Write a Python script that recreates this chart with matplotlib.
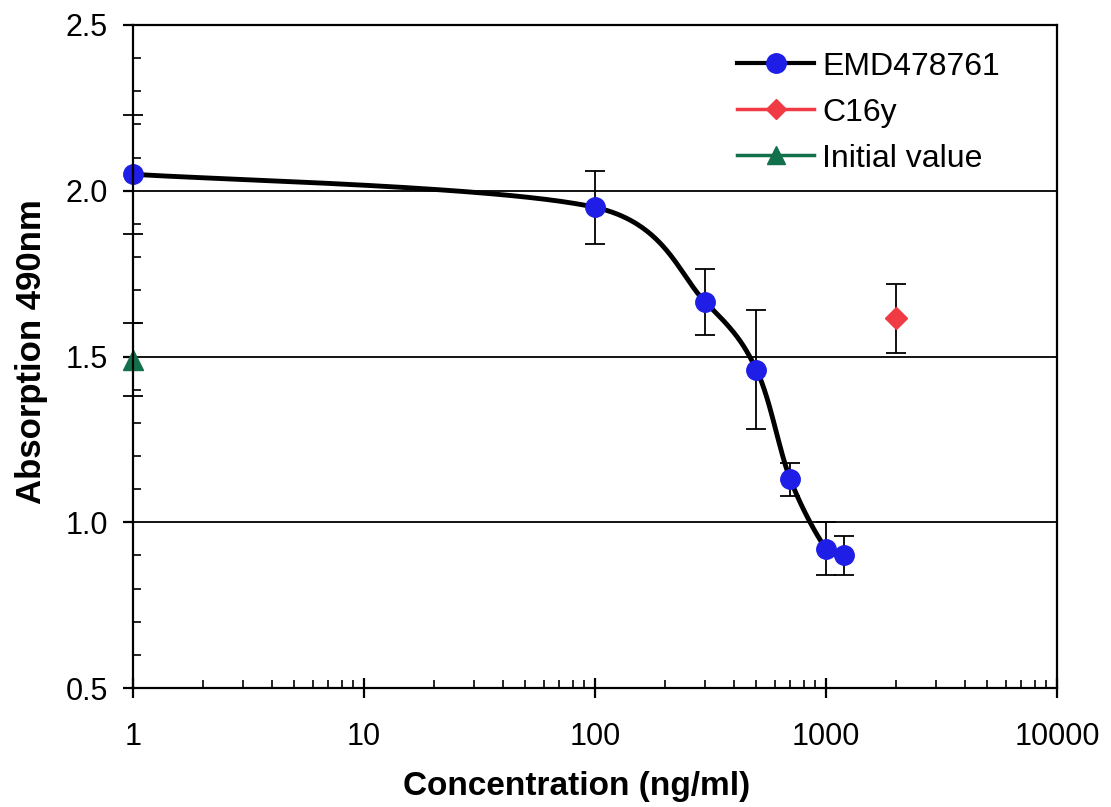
import numpy as np
import matplotlib
matplotlib.use("Agg")
import matplotlib.pyplot as plt
from matplotlib.lines import Line2D

# ---- data ----
emd_x = [1, 100, 300, 500, 700, 1000, 1200]
emd_y = [2.05, 1.95, 1.665, 1.46, 1.13, 0.92, 0.90]
emd_err = [0.18, 0.11, 0.10, 0.18, 0.05, 0.08, 0.06]
c16_x = [2000]
c16_y = [1.615]
c16_err = [0.105]
init_x = [1]
init_y = [1.49]
init_err = [0.11]
x_ticks = [1, 10, 100, 1000, 10000]
x_tick_labels = ["1", "10", "100", "1000", "10000"]
y_ticks = [0.5, 1.0, 1.5, 2.0, 2.5]
y_tick_labels = ["0.5", "1.0", "1.5", "2.0", "2.5"]

plt.rcParams['font.family'] = ['Liberation Sans', 'DejaVu Sans']

W_PX, H_PX = 924, 663
fig = plt.figure(figsize=(11.11, 8.07), dpi=100)
ax = fig.add_axes([133/1111, 1-688/807, W_PX/1111, H_PX/807])
ax.set_xscale('log')
ax.set_xlim(1, 10000)
ax.set_ylim(0.5, 2.5)

# grid lines
for g in [1.0, 1.5, 2.0]:
    ax.axhline(g, color='black', lw=1.3, zorder=1)


def smooth_curve(xs, ys, n=80):
    # spreadsheet-style smoothed line: cubic Bezier segments whose control
    # arms are (p[i+1]-p[i-1])/6, limited to half the segment length
    lx = np.log10(np.array(xs, float)) / 4.0 * W_PX
    ly = (np.array(ys, float) - 0.5) / 2.0 * H_PX
    P = np.column_stack([lx, ly])
    P = np.vstack([P[0], P, P[-1]])
    out = []
    for i in range(1, len(P) - 2):
        p0, p1, p2, p3 = P[i-1], P[i], P[i+1], P[i+2]
        d12 = np.linalg.norm(p2 - p1)
        d02 = np.linalg.norm(p2 - p0)
        d13 = np.linalg.norm(p3 - p1)
        f0 = 1/6 if d02/6 < d12/2 else d12 / (2*d02)
        f1 = 1/6 if d13/6 < d12/2 else d12 / (2*d13)
        a = p1 + f0*(p2 - p0)
        b = p2 - f1*(p3 - p1)
        t = np.linspace(0, 1, n)[:, None]
        C = (1-t)**3*p1 + 3*(1-t)**2*t*a + 3*(1-t)*t**2*b + t**3*p2
        out.append(C)
    out = np.vstack(out)
    return 10**(out[:, 0] / W_PX * 4.0), out[:, 1] / H_PX * 2.0 + 0.5

cx, cy = smooth_curve(emd_x, emd_y)
ax.plot(cx, cy, color='black', lw=3.5, zorder=3, clip_on=False, solid_capstyle='round')

ekw = dict(fmt='none', ecolor='black', elinewidth=1.3, capsize=7, capthick=1.3, zorder=2, clip_on=False)
ax.errorbar(emd_x, emd_y, yerr=emd_err, **ekw)
ax.errorbar(c16_x, c16_y, yerr=c16_err, **ekw)
ax.errorbar(init_x, init_y, yerr=init_err, **ekw)

BLUE = '#1e1ee6'
RED = '#f03a44'
GREEN = '#13704c'
ax.plot(emd_x, emd_y, 'o', color=BLUE, ms=14, mec=BLUE, zorder=4, clip_on=False)
ax.plot(c16_x, c16_y, 'D', color=RED, ms=11, zorder=4, clip_on=False)
ax.plot(init_x, init_y, '^', color=GREEN, ms=14, zorder=4, clip_on=False)

for s in ax.spines.values():
    s.set_linewidth(1.6)
    s.set_zorder(5)

ax.set_xticks(x_ticks)
ax.set_xticklabels(x_tick_labels)
ax.set_yticks(y_ticks)
ax.set_yticklabels(y_tick_labels)
ax.yaxis.set_minor_locator(matplotlib.ticker.MultipleLocator(0.1))
ax.xaxis.set_minor_locator(matplotlib.ticker.LogLocator(base=10, subs=np.arange(2, 10)))
ax.xaxis.set_minor_formatter(matplotlib.ticker.NullFormatter())
ax.tick_params(axis='x', which='major', direction='inout', length=15, width=1.6, labelsize=22, pad=17, colors='black')
ax.tick_params(axis='x', which='minor', direction='in', length=6, width=1.2)
ax.tick_params(axis='y', which='major', direction='out', length=7, width=1.6, labelsize=22, pad=11)
ax.tick_params(axis='y', which='minor', direction='in', length=6, width=1.2)

ax.set_xlabel('Concentration (ng/ml)', fontsize=24, fontweight='bold')
ax.xaxis.set_label_coords((577 - 133) / W_PX, -(787 - 688) / H_PX)
ax.xaxis.label.set_va('center')
ax.set_ylabel('Absorption 490nm', fontsize=25, fontweight='bold')
ax.yaxis.set_label_coords(-(133 - 32) / W_PX, (688 - 352) / H_PX)
ax.yaxis.label.set_va('center')

handles = [
    Line2D([], [], color='black', lw=3, marker='o', ms=14, mfc=BLUE, mec=BLUE),
    Line2D([], [], color=RED, lw=2.5, marker='D', ms=10, mfc=RED, mec=RED),
    Line2D([], [], color=GREEN, lw=2.5, marker='^', ms=13, mfc=GREEN, mec=GREEN),
]
leg = ax.legend(handles, ['EMD478761', 'C16y', 'Initial value'], loc='upper left',
                bbox_to_anchor=((737 - 133) / W_PX - 0.01, 1.0 - 17 / H_PX), frameon=False, fontsize=23,
                handlelength=2.4, handletextpad=0.25, labelspacing=0.5, borderaxespad=0.0,
                borderpad=0.3)

fig.savefig('out.png', dpi=100, facecolor='white')
